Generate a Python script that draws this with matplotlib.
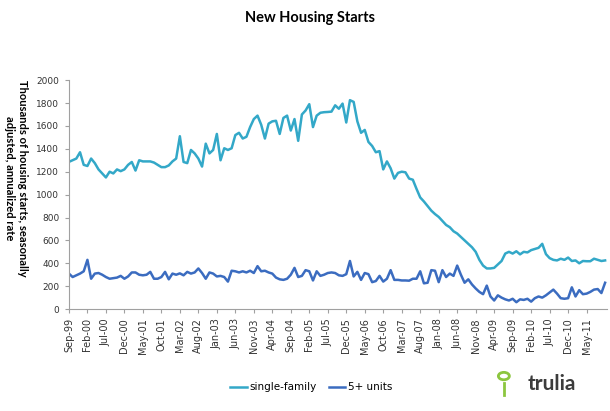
import matplotlib.pyplot as plt
import matplotlib.patches as mpatches
import pandas as pd

# monthly data, Sep-99 .. Oct-11 (thousands, SAAR)
months = pd.date_range('1999-09-01', periods=146, freq='MS')
month_labels = [d.strftime('%b-%y') for d in months]

single_family = [
    1286, 1300, 1315, 1370, 1260, 1250, 1315, 1275, 1220, 1185, 1150, 1200,
    1185, 1220, 1205, 1220, 1260, 1285, 1210, 1300, 1290, 1290, 1290, 1280,
    1260, 1240, 1240, 1255, 1290, 1315, 1510, 1285, 1275, 1390, 1360, 1315,
    1245, 1445, 1360, 1390, 1530, 1300, 1405, 1390, 1405, 1520, 1540, 1490,
    1505, 1590, 1660, 1690, 1610, 1490, 1620, 1640, 1645, 1530, 1670, 1690,
    1560, 1660, 1470, 1700, 1735, 1790, 1590, 1690, 1715, 1720, 1722, 1725,
    1780, 1750, 1795, 1630, 1825, 1810, 1640, 1540, 1565, 1460, 1425, 1370,
    1380, 1220, 1290, 1230, 1140, 1190, 1200, 1195, 1140, 1130, 1050, 975,
    940, 900, 860, 830, 805, 770, 735, 715, 680, 660, 630, 600,
    570, 540, 500, 430, 380, 355, 355, 360, 390, 420, 485, 500,
    485, 505, 478, 500, 495, 515, 525, 535, 570, 480, 445, 430,
    425, 440, 430, 450, 420, 425, 400, 420, 418, 418, 440, 430,
    420, 425,
]

five_plus = [
    310, 280, 295, 310, 330, 430, 265, 310, 315, 300, 280, 265,
    270, 275, 290, 265, 285, 320, 320, 300, 295, 300, 325, 265,
    265, 280, 325, 260, 310, 300, 312, 295, 325, 310, 320, 355,
    315, 265, 320, 310, 285, 290, 280, 240, 335, 330, 320, 330,
    320, 335, 315, 375, 330, 335, 320, 310, 275, 260, 255, 265,
    300, 360, 280, 290, 340, 330, 250, 330, 290, 300, 315, 320,
    315, 295, 290, 305, 420, 285, 325, 255, 315, 305, 235, 245,
    290, 240, 265, 340, 255, 255, 250, 250, 248, 265, 265, 330,
    225, 230, 340, 335, 235, 340, 280, 310, 290, 380, 300, 230,
    260, 215, 180, 150, 130, 205, 110, 75, 120, 100, 85, 75,
    90, 60, 85, 80, 90, 65, 95, 110, 100, 120, 145, 170,
    135, 95, 90, 95, 190, 110, 165, 130, 135, 150, 170, 175,
    140, 230,
]

x = list(range(len(months)))
tick_pos = x[:141:5]

fig = plt.figure(figsize=(6.1, 4.11), dpi=100)
ax = fig.add_axes([0.113, 0.248, 0.882, 0.557])

ax.plot(x, single_family, color='#33a8c8', linewidth=1.8, label='single-family')
ax.plot(x, five_plus, color='#3b6cc0', linewidth=1.8, label='5+ units')

ax.set_ylim(0, 2000)
ax.set_yticks(range(0, 2001, 200))
ax.set_xlim(0, 145.5)
ax.set_xticks(tick_pos)
ax.set_xticklabels([month_labels[i] for i in tick_pos], rotation=90, fontsize=7, color='#333333')
ax.tick_params(axis='y', labelsize=6.5, colors='#333333', length=3, color='#a0a0a0', pad=4)
ax.tick_params(axis='x', length=3, color='#a0a0a0')
for s in ['top', 'right']:
    ax.spines[s].set_visible(False)
for s in ['left', 'bottom']:
    ax.spines[s].set_color('#a0a0a0')

fig.text(0.508, 0.955, 'New Housing Starts', ha='center', va='center',
         fontsize=10.5, fontweight='bold', family='Lato')
fig.text(0.026, 0.567, 'Thousands of housing starts, seasonally\nadjusted, annualized rate',
         ha='center', va='center', rotation=270, fontsize=8, fontweight='bold',
         family='Lato', linespacing=1.15)

fig.legend(loc='center', bbox_to_anchor=(0.51, 0.058), ncol=2, frameon=False,
           fontsize=7.5, handlelength=1.6, columnspacing=1.2, handletextpad=0.2)

# trulia mark
fig.text(0.905, 0.065, 'trulia', ha='center', va='center', fontsize=15,
         fontweight='bold', color='#3c3c3c', family='Lato')
pin = mpatches.Circle((0.826, 0.085), 0.009, transform=fig.transFigure,
                      facecolor='none', edgecolor='#8cc63f', linewidth=2)
fig.patches.append(pin)
fig.add_artist(plt.Line2D([0.826, 0.826], [0.068, 0.04], transform=fig.transFigure,
                          color='#8cc63f', linewidth=2))

plt.savefig('out.png', dpi=100)
